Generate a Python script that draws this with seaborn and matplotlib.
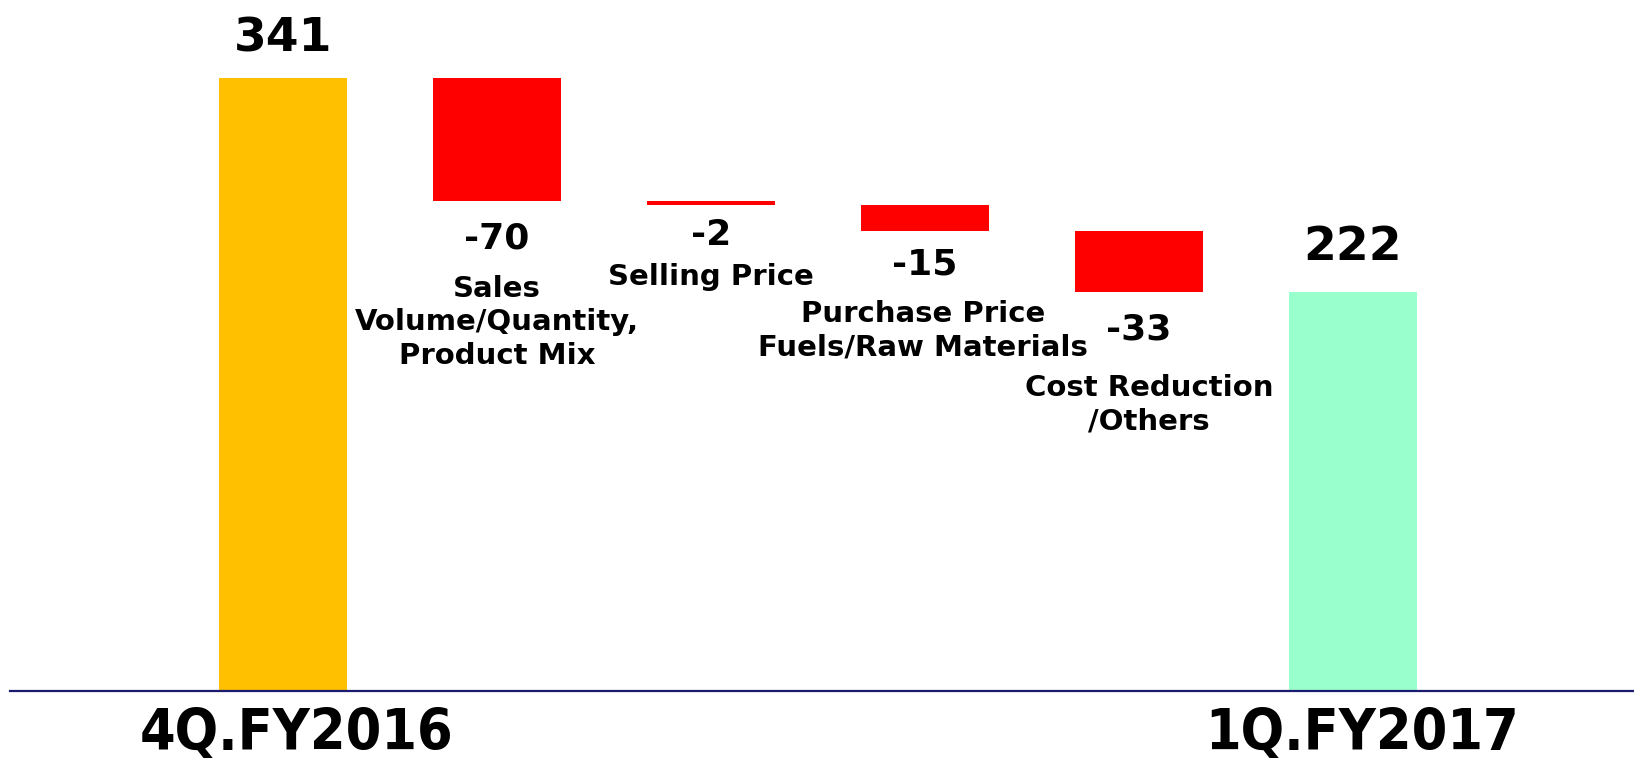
import matplotlib
matplotlib.use("Agg")
import matplotlib.pyplot as plt
import seaborn as sns
import numpy as np

# ---- data ----
categories = ["4Q.FY2016", "Sales Volume/Quantity, Product Mix", "Selling Price",
              "Purchase Price Fuels/Raw Materials", "Cost Reduction /Others", "1Q.FY2017"]
start_value = 341
changes = [-68.5, -2.3, -14.5, -33.7]   # bar extents as drawn (labels are rounded)
end_value = 222
value_labels = ["341", "-70", "-2", "-15", "-33", "222"]
below_labels = ["", "Sales\nVolume/Quantity,\nProduct Mix", "Selling Price",
                "Purchase Price\nFuels/Raw Materials", "Cost Reduction\n/Others", ""]
period_labels = ["4Q.FY2016", "1Q.FY2017"]
colors = ["#FFC000", "#FF0000", "#FF0000", "#FF0000", "#FF0000", "#99FFCC"]

# waterfall geometry derived from data
tops, bottoms = [start_value], [0]
running = start_value
for c in changes:
    tops.append(running)
    bottoms.append(running + c)
    running += c
tops.append(end_value)
bottoms.append(0)
heights = [t - b for t, b in zip(tops, bottoms)]

sns.set_theme(style="white")
plt.rcParams["font.family"] = ["DejaVu Sans"]

fig = plt.figure(figsize=(16.34, 7.65), dpi=100)
ax = fig.add_axes([10.4 / 1634, 74 / 765, 1 - 10.4 / 1634, 691 / 765])

sns.barplot(x=list(range(len(categories))), y=heights, palette=colors,
            hue=list(range(len(categories))), legend=False, width=0.6,
            saturation=1, ax=ax, native_scale=True)
for p, b in zip(ax.patches, bottoms):
    p.set_y(b)
    p.set_edgecolor("none")

ax.set_xlim(-1.274, 6.313)
ax.set_ylim(0, 384.5)
for s in ["top", "right", "left"]:
    ax.spines[s].set_visible(False)
ax.spines["bottom"].set_color("#1a1a6e")
ax.spines["bottom"].set_linewidth(1.6)
ax.set_xticks([])
ax.set_yticks([])
ax.set_xlabel("")
ax.set_ylabel("")

fkw = dict(fontweight="bold", color="black")

# value labels
n = len(categories)
for i in range(n):
    if i in (0, n - 1):
        ax.annotate(value_labels[i], (i, tops[i]), xytext=(0, 39 * 0.72 if i == 0 else 45 * 0.72),
                    textcoords="offset points", ha="center", va="center", fontsize=34, **fkw)
    else:
        off = [37.5, 30, 33, 37][i - 1]
        ax.annotate(value_labels[i], (i, bottoms[i]), xytext=(0, -off * 0.72),
                    textcoords="offset points", ha="center", va="center", fontsize=26, **fkw)

# category labels below the change bars (offset px from bar bottom to first line center)
first_line_off = {1: 86.6, 2: 71, 3: 81.6, 4: 94.6}
x_shift = {1: 0, 2: 0, 3: -2, 4: 10}
for i, off in first_line_off.items():
    ax.annotate(below_labels[i], (i, bottoms[i]), xytext=(x_shift[i] * 0.72, -(off - 13) * 0.72),
                textcoords="offset points", ha="center", va="top", fontsize=21,
                linespacing=1.25, **fkw)

# period labels under the axis
for i, lab, dx in [(0, period_labels[0], 14), (n - 1, period_labels[1], 9)]:
    ax.annotate(lab, (i, 0), xytext=(dx * 0.72, -44 * 0.72), textcoords="offset points",
                ha="center", va="center", fontsize=41, fontstretch="condensed",
                annotation_clip=False, fontweight="bold", color="black")

fig.savefig("out.png", dpi=100, facecolor="white")
